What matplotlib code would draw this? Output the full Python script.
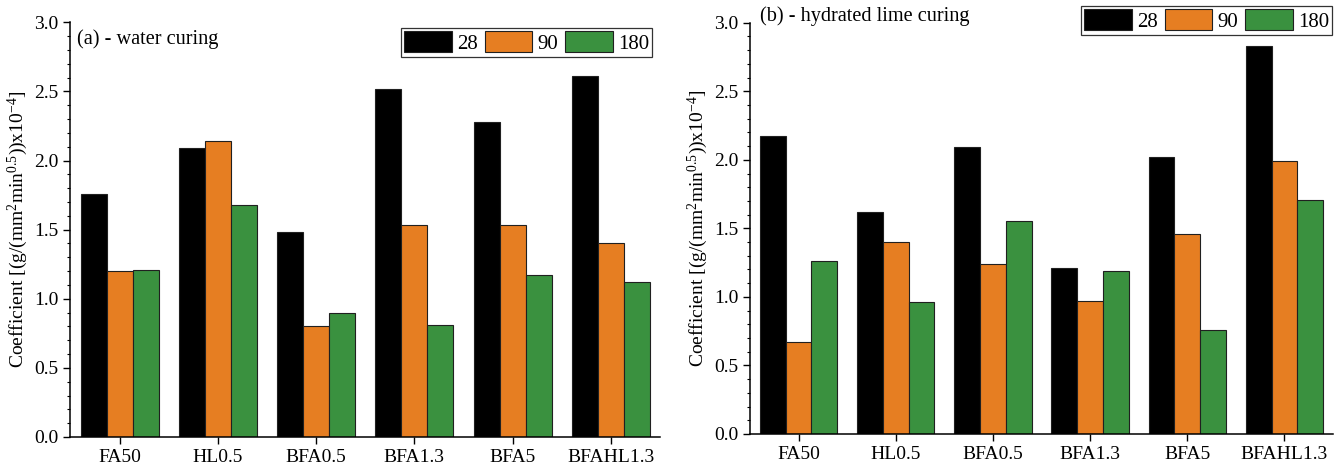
import numpy as np
import matplotlib
matplotlib.use('Agg')
import matplotlib.pyplot as plt
from matplotlib.ticker import MultipleLocator

plt.rcParams['font.family'] = ['Liberation Serif', 'DejaVu Serif']
plt.rcParams['mathtext.fontset'] = 'custom'
plt.rcParams['mathtext.rm'] = 'Liberation Serif'
plt.rcParams['mathtext.it'] = 'Liberation Serif'

# data
mixes = ['FA50', 'HL0.5', 'BFA0.5', 'BFA1.3', 'BFA5', 'BFAHL1.3']
ages = ['28', '90', '180']
water_28 = [1.76, 2.09, 1.48, 2.52, 2.28, 2.61]
water_90 = [1.20, 2.14, 0.80, 1.53, 1.53, 1.40]
water_180 = [1.21, 1.68, 0.90, 0.81, 1.17, 1.12]
lime_28 = [2.17, 1.62, 2.09, 1.21, 2.02, 2.83]
lime_90 = [0.67, 1.40, 1.24, 0.97, 1.46, 1.99]
lime_180 = [1.26, 0.96, 1.55, 1.19, 0.76, 1.71]

colors = ['#000000', '#e67e22', '#3a913f']
ylabel = r'Coefficient [(g/(mm$^2$min$^{0.5}$))x10$^{-4}$]'

fig = plt.figure(figsize=(13.35, 4.71), dpi=100)
ax1 = fig.add_axes([0.0528, 0.0722, 0.4416, 0.8805])
ax2 = fig.add_axes([0.5618, 0.0786, 0.4367, 0.8732])

x = np.arange(len(mixes))
w = 0.265


def draw(ax, series, title, tx, ty, leg_box):
    for i, (vals, c, lab) in enumerate(zip(series, colors, ages)):
        ax.bar(x + (i - 1) * w, vals, w, color=c, edgecolor='#202020',
               linewidth=0.8, label=lab)
    ax.set_xlim(-0.5, 5.5)
    ax.set_ylim(0, 3.0)
    ax.yaxis.set_major_locator(MultipleLocator(0.5))
    ax.yaxis.set_minor_locator(MultipleLocator(0.1))
    ax.set_xticks(x)
    ax.set_xticklabels(mixes)
    ax.tick_params(axis='both', which='major', direction='out', length=5,
                   width=1, labelsize=14)
    ax.tick_params(axis='y', which='minor', direction='out', length=2.5, width=0.8)
    ax.spines['top'].set_visible(False)
    ax.spines['right'].set_visible(False)
    for s in ['left', 'bottom']:
        ax.spines[s].set_linewidth(1.1)
    ax.set_ylabel(ylabel, fontsize=14, labelpad=3)
    fig.text(tx, ty, title, fontsize=14.6, va='center', ha='left')
    leg = ax.legend(ncol=3, loc='upper right', bbox_to_anchor=leg_box,
                    bbox_transform=fig.transFigure, fontsize=15,
                    handlelength=2.3, handleheight=1.15, handletextpad=0.25,
                    columnspacing=0.3, borderpad=0.15, borderaxespad=0,
                    fancybox=False, frameon=True)
    leg.get_frame().set_edgecolor('black')
    leg.get_frame().set_linewidth(0.9)


draw(ax1, [water_28, water_90, water_180], '(a) - water curing',
     77 / 1335, 1 - 39 / 471, (652 / 1335, 1 - 28 / 471))
draw(ax2, [lime_28, lime_90, lime_180], '(b) - hydrated lime curing',
     760 / 1335, 1 - 16 / 471, (1332 / 1335, 1 - 6 / 471))

fig.savefig('out.png', dpi=100)
